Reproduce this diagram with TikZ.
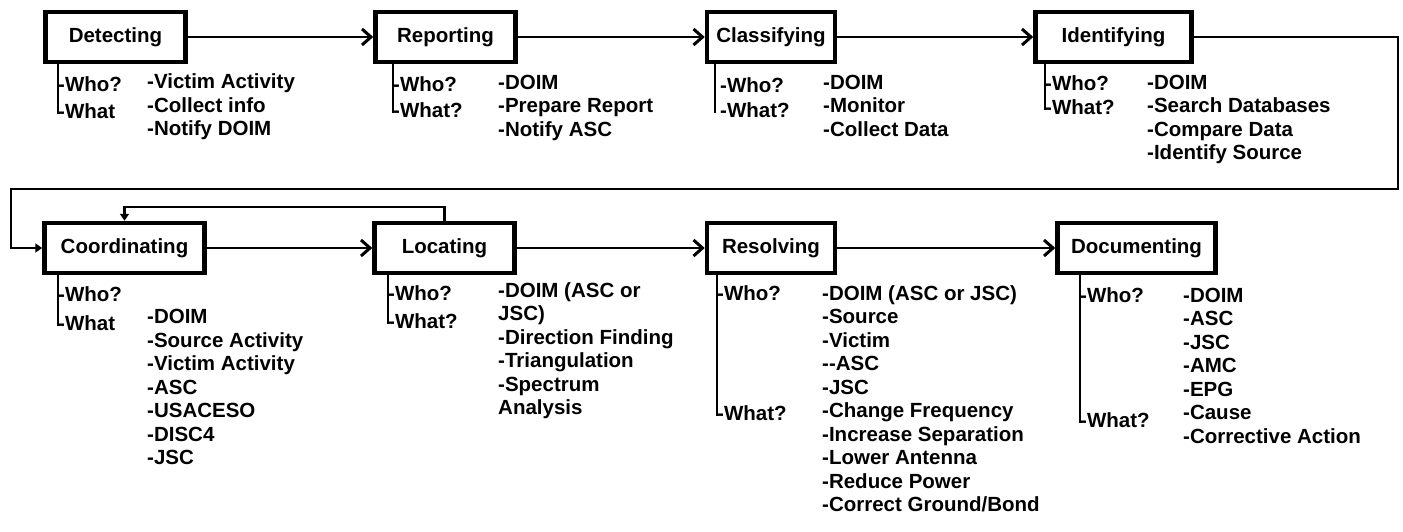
\documentclass[tikz,border=0pt]{standalone}
\usepackage{fontspec}
\setmainfont{Liberation Sans}
\usetikzlibrary{arrows.meta}
\begin{document}
\begin{tikzpicture}[x=1pt,y=-1pt,
  every node/.style={font=\bfseries\fontsize{20.5}{23.5}\selectfont, inner sep=0pt},
  stage/.style={draw, line width=4.5pt, minimum height=50pt},
  flow/.style={line width=2.2pt, -{Straight Barb[length=9pt,width=16pt,line width=3pt]}},
  flowtri/.style={line width=2.2pt, -{Triangle[length=7pt,width=9pt]}},
  brace/.style={line width=2.6pt},
  tag/.style={anchor=west},
  lst/.style={anchor=north west, align=left}]
\useasboundingbox (0,0) rectangle (1403,531);

% stage boxes
\node[stage, minimum width=140pt] (det) at (115.5,37) {Detecting};
\node[stage, minimum width=140pt] (rep) at (445.5,37) {Reporting};
\node[stage, minimum width=128pt] (cla) at (771,37) {Classifying};
\node[stage, minimum width=156pt] (ide) at (1113.5,37) {Identifying};
\node[stage, minimum width=160pt] (coo) at (124.5,248) {Coordinating};
\node[stage, minimum width=140pt] (loc) at (444.5,248) {Locating};
\node[stage, minimum width=128pt] (res) at (771,248) {Resolving};
\node[stage, minimum width=158pt] (doc) at (1136.5,248) {Documenting};

% flow connectors
\draw[flow] (det.east) -- (rep.west);
\draw[flow] (rep.east) -- (cla.west);
\draw[flow] (cla.east) -- (ide.west);
\coordinate (wrR) at (1398,189);
\coordinate (wrL) at (11,189);
\draw[flowtri] (ide.east) -| (wrR) -- (wrL) |- (coo.west);
\draw[flow] (coo.east) -- (loc.west);
\draw[flow] (loc.east) -- (res.west);
\draw[flow] (res.east) -- (doc.west);
\coordinate (fbY) at (0,207);
\draw[flowtri] (loc.north) -- (loc.north |- fbY) -- (coo.north |- fbY) -- (coo.north);

% who / what brackets
\coordinate (detB) at (58,114);
\draw[brace] (det.south -| detB) -- (detB);
\node[tag] (detWho) at (58,84) {-Who?};
\node[tag] (detWhat) at (58,111) {-What};

\coordinate (repB) at (393,113);
\draw[brace] (rep.south -| repB) -- (repB);
\node[tag] (repWho) at (393,84) {-Who?};
\node[tag] (repWhat) at (393,110) {-What?};

\coordinate (claB) at (715,113);
\draw[brace] (cla.south -| claB) -- (claB);
\node[tag] (claWho) at (720,85) {-Who?};
\node[tag] (claWhat) at (720,110) {-What?};

\coordinate (ideB) at (1045,110);
\draw[brace] (ide.south -| ideB) -- (ideB);
\node[tag] (ideWho) at (1045,83) {-Who?};
\node[tag] (ideWhat) at (1045,107) {-What?};

\coordinate (cooB) at (58,326);
\draw[brace] (coo.south -| cooB) -- (cooB);
\node[tag] (cooWho) at (58,294) {-Who?};
\node[tag] (cooWhat) at (58,323) {-What};

\coordinate (locB) at (388,324);
\draw[brace] (loc.south -| locB) -- (locB);
\node[tag] (locWho) at (388,293) {-Who?};
\node[tag] (locWhat) at (388,321) {-What?};

\coordinate (resB) at (717,416);
\draw[brace] (res.south -| resB) -- (resB);
\node[tag] (resWho) at (717,293) {-Who?};
\node[tag] (resWhat) at (717,413) {-What?};

\coordinate (docB) at (1080,423);
\draw[brace] (doc.south -| docB) -- (docB);
\node[tag] (docWho) at (1080,295) {-Who?};
\node[tag] (docWhat) at (1080,420) {-What?};

% detail lists
\node[lst] (detL) at (147,72.5) {\rule{0pt}{16pt}-Victim Activity\\-Collect info\\-Notify DOIM};
\node[lst] (repL) at (498,73) {\rule{0pt}{16pt}-DOIM\\-Prepare Report\\-Notify ASC};
\node[lst] (claL) at (823,73) {\rule{0pt}{16pt}-DOIM\\-Monitor\\-Collect Data};
\node[lst] (ideL) at (1147,73) {\rule{0pt}{16pt}-DOIM\\-Search Databases\\-Compare Data\\-Identify Source};
\node[lst] (cooL) at (147,307.5) {\rule{0pt}{16pt}-DOIM\\-Source Activity\\-Victim Activity\\-ASC\\-USACESO\\-DISC4\\-JSC};
\node[lst] (locL) at (498,281) {\rule{0pt}{16pt}-DOIM (ASC or\\JSC)\\-Direction Finding\\-Triangulation\\-Spectrum\\Analysis};
\node[lst] (resL) at (822,284) {\rule{0pt}{16pt}-DOIM (ASC or JSC)\\-Source\\-Victim\\-{}-ASC\\-JSC\\-Change Frequency\\-Increase Separation\\-Lower Antenna\\-Reduce Power\\-Correct Ground/Bond};
\node[lst] (docL) at (1183,286) {\rule{0pt}{16pt}-DOIM\\-ASC\\-JSC\\-AMC\\-EPG\\-Cause\\-Corrective Action};
\end{tikzpicture}
\end{document}
